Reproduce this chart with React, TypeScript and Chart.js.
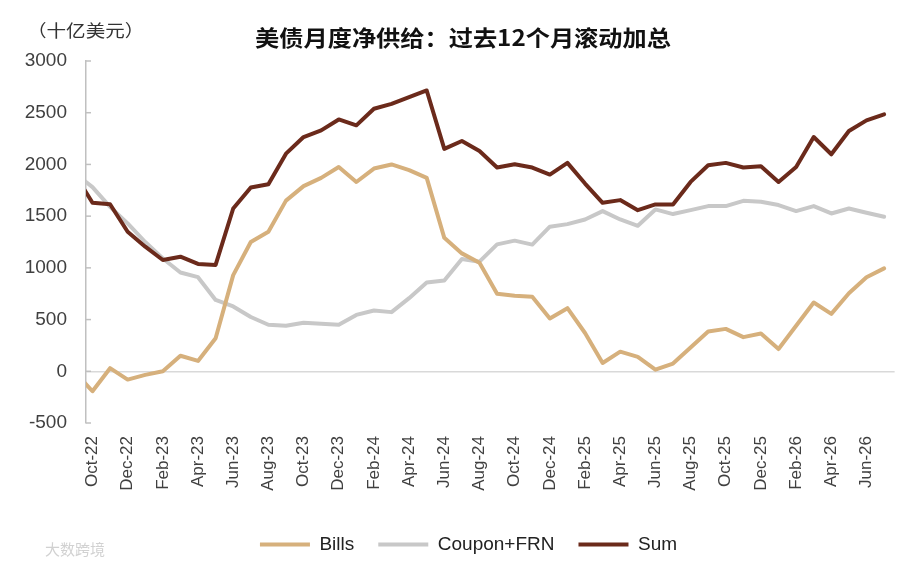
import { useEffect, useRef } from 'react';
import { Chart, registerables } from 'chart.js';
Chart.register(...registerables);

// month labels, Sep-22 sits just left of the plot edge (clipped, as in the source)
const months = [
  'Sep-22', 'Oct-22', 'Nov-22', 'Dec-22',
  'Jan-23', 'Feb-23', 'Mar-23', 'Apr-23', 'May-23', 'Jun-23', 'Jul-23', 'Aug-23', 'Sep-23', 'Oct-23', 'Nov-23', 'Dec-23',
  'Jan-24', 'Feb-24', 'Mar-24', 'Apr-24', 'May-24', 'Jun-24', 'Jul-24', 'Aug-24', 'Sep-24', 'Oct-24', 'Nov-24', 'Dec-24',
  'Jan-25', 'Feb-25', 'Mar-25', 'Apr-25', 'May-25', 'Jun-25', 'Jul-25', 'Aug-25', 'Sep-25', 'Oct-25', 'Nov-25', 'Dec-25',
  'Jan-26', 'Feb-26', 'Mar-26', 'Apr-26', 'May-26', 'Jun-26', 'Jul-26',
];

const bills = [
  -10, -193, 30, -80, -35, 0, 150, 100, 320, 930, 1250, 1350, 1650, 1790, 1870, 1975,
  1830, 1960, 2000, 1945, 1870, 1290, 1140, 1050, 750, 730, 720, 510, 610, 370, 80, 190,
  140, 15, 75, 230, 385, 410, 330, 365, 215, 440, 665, 555, 755, 910, 995,
];

const couponFrn = [
  1915, 1780, 1590, 1430, 1250, 1090, 955, 910, 690, 627, 525, 450, 440, 470, 460, 450,
  545, 588, 572, 707, 858, 877, 1086, 1060, 1227, 1263, 1225, 1398, 1423, 1468, 1549, 1468,
  1407, 1565, 1520, 1558, 1597, 1597, 1648, 1639, 1607, 1549, 1597, 1526, 1574, 1533, 1494,
];

const sum = [
  1905, 1630, 1615, 1349, 1205, 1076, 1108, 1038, 1028, 1574, 1777, 1809, 2104, 2265, 2329, 2435,
  2378, 2538, 2586, 2651, 2715, 2150, 2227, 2130, 1970, 2002, 1970, 1902, 2015, 1815, 1629, 1655,
  1558, 1613, 1613, 1831, 1992, 2015, 1970, 1982, 1831, 1976, 2265, 2098, 2323, 2426, 2484,
];

const seriesNames = ['Bills', 'Coupon+FRN', 'Sum'];
const title = '美债月度净供给：过去12个月滚动加总';
const unit = '（十亿美元）';
const watermark = '大数跨境';

const LATIN = '"Liberation Sans", Arial, sans-serif';
const CJK = '"Noto Sans CJK SC", sans-serif';

// x value: Oct-22 = 0
const toPoints = (vals: number[]) => vals.map((v, k) => ({ x: k - 1, y: v }));

const decor = {
  id: 'decor',
  afterLayout(chart: any) {
    // legend sits a little right of the canvas centre in the source
    const lg = chart.legend;
    if (lg) { lg.left += 20; lg.right += 20; }
  },
  beforeDatasetsDraw(chart: any) {
    const { ctx, chartArea, scales } = chart;
    ctx.save();
    ctx.strokeStyle = '#c0c0c0';
    ctx.lineWidth = 1.5;
    scales.y.ticks.forEach((t: any) => {
      const y = scales.y.getPixelForValue(t.value);
      ctx.beginPath();
      ctx.moveTo(chartArea.left, y);
      ctx.lineTo(chartArea.left + 5, y);
      ctx.stroke();
    });
    ctx.restore();
  },
  afterDraw(chart: any) {
    const { ctx } = chart;
    ctx.save();
    ctx.textBaseline = 'middle';

    ctx.fillStyle = '#111';
    ctx.font = `bold 22px ${CJK}`;
    ctx.textAlign = 'center';
    ctx.save();
    ctx.translate(463, 38);
    ctx.scale(1.1, 1);
    ctx.fillText(title, 0, 0);
    ctx.restore();

    ctx.fillStyle = '#333';
    ctx.font = `17px ${CJK}`;
    ctx.textAlign = 'left';
    ctx.save();
    ctx.translate(27, 31);
    ctx.scale(1.15, 1);
    ctx.fillText(unit, 0, 0);
    ctx.restore();

    ctx.fillStyle = 'rgba(190,190,190,0.7)';
    ctx.font = `15px ${CJK}`;
    ctx.fillText(watermark, 45, 549);
    ctx.restore();
  },
};

export default function App() {
  const canvasRef = useRef<HTMLCanvasElement>(null);
  const chartRef = useRef<Chart | null>(null);

  useEffect(() => {
    if (!canvasRef.current) return;
    if (chartRef.current) chartRef.current.destroy();

    const line = (label: string, vals: number[], color: string, order: number) => ({
      label,
      data: toPoints(vals),
      borderColor: color,
      backgroundColor: color,
      borderWidth: 4,
      borderJoinStyle: 'round' as const,
      borderCapStyle: 'round' as const,
      pointRadius: 0,
      tension: 0,
      order,
    });

    chartRef.current = new Chart(canvasRef.current, {
      type: 'line',
      data: {
        datasets: [
          line(seriesNames[0], bills, '#d6b07c', 1),
          line(seriesNames[1], couponFrn, '#c8c8c8', 2),
          line(seriesNames[2], sum, '#6b2a1b', 0),
        ],
      },
      options: {
        responsive: false,
        animation: false,
        events: [],
        layout: { padding: { top: 61, left: 0, right: 3, bottom: 4 } },
        plugins: {
          tooltip: { enabled: false },
          title: { display: false },
          legend: {
            position: 'bottom',
            labels: {
              usePointStyle: true,
              pointStyle: 'line',
              pointStyleWidth: 50,
              padding: 24,
              color: '#222',
              font: { size: 19, family: LATIN },
              sort: (a: any, b: any) => a.datasetIndex - b.datasetIndex,
            },
          },
        },
        scales: {
          x: {
            type: 'linear',
            min: -0.368,
            max: 45.6,
            grid: { display: false, drawTicks: false },
            border: { display: false },
            afterBuildTicks: (scale: any) => {
              scale.ticks = months
                .map((_, k) => k - 1)
                .filter(v => v >= 0 && v % 2 === 0)
                .map(v => ({ value: v }));
            },
            afterFit: (scale: any) => { scale.height = 88; },
            ticks: {
              autoSkip: false,
              minRotation: 90,
              maxRotation: 90,
              padding: 13,
              color: '#404040',
              font: { size: 17, family: LATIN },
              callback: (v: number | string) => months[Number(v) + 1],
            },
          },
          y: {
            min: -500,
            max: 3000,
            grid: {
              drawTicks: false,
              lineWidth: 1.5,
              color: (c: any) => (c.tick && c.tick.value === 0 ? '#d9d9d9' : 'rgba(0,0,0,0)'),
            },
            border: { display: true, color: '#c0c0c0', width: 1.5 },
            afterFit: (scale: any) => { scale.width = 86; },
            ticks: {
              stepSize: 500,
              padding: 19,
              color: '#404040',
              font: { size: 19, family: LATIN },
              callback: (v: number | string) => String(v),
            },
          },
        },
      },
      plugins: [decor],
    });

    return () => { chartRef.current?.destroy(); };
  }, []);

  return (
    <div style={{ position: 'fixed', left: 0, top: 0, width: 900, height: 568, background: '#fff' }}>
      <canvas ref={canvasRef} width={900} height={568} style={{ display: 'block' }} role="img" aria-label={title} />
    </div>
  );
}
